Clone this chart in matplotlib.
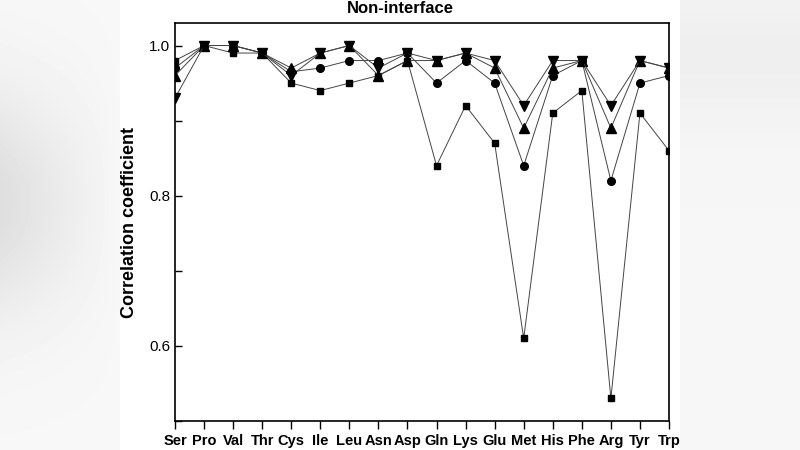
import numpy as np
import matplotlib.pyplot as plt

residues = ['Ser', 'Pro', 'Val', 'Thr', 'Cys', 'Ile', 'Leu', 'Asn', 'Asp',
            'Gln', 'Lys', 'Glu', 'Met', 'His', 'Phe', 'Arg', 'Tyr', 'Trp']

# four series
sq = [0.98, 1.00, 0.99, 0.99, 0.95, 0.94, 0.95, 0.96, 0.98,
      0.84, 0.92, 0.87, 0.61, 0.91, 0.94, 0.53, 0.91, 0.86]
circ = [0.97, 1.00, 1.00, 0.99, 0.965, 0.97, 0.98, 0.98, 0.99,
        0.95, 0.98, 0.95, 0.84, 0.96, 0.98, 0.82, 0.95, 0.96]
up = [0.96, 1.00, 1.00, 0.99, 0.97, 0.99, 1.00, 0.96, 0.98,
      0.98, 0.99, 0.97, 0.89, 0.97, 0.98, 0.89, 0.98, 0.97]
down = [0.93, 1.00, 1.00, 0.99, 0.96, 0.99, 1.00, 0.97, 0.99,
        0.98, 0.99, 0.98, 0.92, 0.98, 0.98, 0.92, 0.98, 0.97]

plt.rcParams['font.family'] = ['Liberation Sans', 'DejaVu Sans']

fig = plt.figure(figsize=(8, 4.5), dpi=100)

# soft grey blur on both sides, white middle
bg = fig.add_axes([0, 0, 1, 1], zorder=-10)
cols = np.linspace(0, 1, 800)
rows = np.linspace(0, 1, 450)
X, Y = np.meshgrid(cols, rows)
shade = np.ones_like(X)
left = X < 0.15
shade[left] = 0.97 - 0.10 * np.exp(-((Y[left] - 0.45) / 0.25) ** 2) * (1 - X[left] / 0.15)
right = X > 0.85
shade[right] = 0.965 - 0.03 * np.exp(-((Y[right] - 0.12) / 0.15) ** 2)
bg.imshow(shade, cmap='gray', vmin=0, vmax=1, aspect='auto', extent=[0, 1, 0, 1])
bg.axis('off')

ax = fig.add_axes([0.21875, 0.0644, 0.6175, 0.8845])
x = np.arange(len(residues))
lw = 0.7
lc = '#444444'
ax.plot(x, sq, color=lc, lw=lw, marker='s', ms=5, mfc='black', mec='black')
ax.plot(x, circ, color=lc, lw=lw, marker='o', ms=5.5, mfc='black', mec='black')
ax.plot(x, up, color=lc, lw=lw, marker='^', ms=6.5, mfc='black', mec='black')
ax.plot(x, down, color=lc, lw=lw, marker='v', ms=6.5, mfc='black', mec='black')

ax.set_xlim(0, len(residues) - 1)
ax.set_ylim(0.5, 1.03)
ax.set_xticks(x)
ax.set_xticklabels(residues, fontweight='bold', fontsize=10.5)
ax.set_yticks([0.6, 0.8, 1.0])
ax.set_yticklabels(['0.6', '0.8', '1.0'], fontsize=11)
ax.set_yticks([0.5, 0.7, 0.9], minor=True)
ax.tick_params(axis='y', which='both', direction='in', length=5, width=1)
ax.tick_params(axis='x', direction='out', length=6, width=1, pad=3)
for s in ax.spines.values():
    s.set_linewidth(1.2)

ax.set_ylabel('Correlation coefficient', fontsize=13, fontweight='bold', labelpad=8)
fig.text(0.5, 0.982, 'Non-interface', ha='center', va='center', fontsize=12, fontweight='bold')

fig.savefig('out.png', dpi=100)
